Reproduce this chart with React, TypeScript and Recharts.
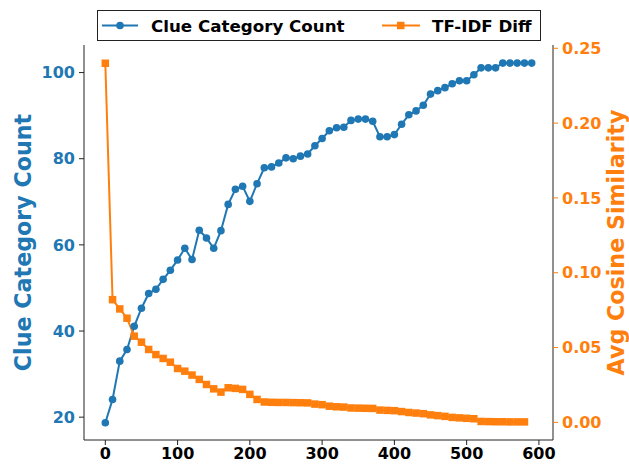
import { LineChart, Line, XAxis, YAxis } from "recharts";

const steps = [
  0, 10, 20, 30, 40, 50, 60, 70, 80, 90, 100, 110, 120, 130, 140, 150, 160, 170, 180, 190,
  200, 210, 220, 230, 240, 250, 260, 270, 280, 290, 300, 310, 320, 330, 340, 350, 360, 370, 380, 390,
  400, 410, 420, 430, 440, 450, 460, 470, 480, 490, 500, 510, 520, 530, 540, 550, 560, 570, 580, 590,
];

const clueCategoryCount = [
  18.7, 24.1, 33.0, 35.7, 41.1, 45.3, 48.7, 49.7, 52.0, 54.1, 56.5, 59.2, 56.6, 63.4, 61.6, 59.2, 63.3, 69.4, 72.9, 73.6,
  70.1, 74.2, 77.9, 78.1, 79.0, 80.2, 80.0, 80.6, 81.1, 83.0, 84.7, 86.5, 87.2, 87.3, 88.9, 89.2, 89.2, 88.7, 85.1, 85.1,
  85.6, 88.0, 90.2, 91.1, 92.4, 95.0, 95.8, 96.5, 97.4, 98.1, 98.1, 99.5, 101.1, 101.1, 101.1, 102.2, 102.2, 102.2, 102.2, 102.2,
];

const tfidfDiff = [
  0.24, 0.082, 0.0758, 0.0696, 0.0576, 0.0536, 0.0487, 0.0453, 0.0427, 0.0402, 0.036, 0.0342, 0.0316, 0.0287, 0.0253, 0.0224, 0.0202, 0.0231, 0.0227, 0.022,
  0.0187, 0.0153, 0.0136, 0.0134, 0.0133, 0.0133, 0.0132, 0.0131, 0.013, 0.0122, 0.0118, 0.0108, 0.0104, 0.0102, 0.0096, 0.0095, 0.0094, 0.0093, 0.0082, 0.008,
  0.0078, 0.0072, 0.0066, 0.0062, 0.0058, 0.005, 0.0045, 0.004, 0.0033, 0.003, 0.0027, 0.0024, 0.0006, 0.0005, 0.0004, 0.0004, 0.0003, 0.0003, 0.0003, null,
];

const xTicks = [0, 100, 200, 300, 400, 500, 600];
const leftTicks = [20, 40, 60, 80, 100];
const rightTicks = [0, 0.05, 0.1, 0.15, 0.2, 0.25];

const data = steps.map((x, i) => ({ x, count: clueCategoryCount[i], diff: tfidfDiff[i] }));

const BLUE = "#1f77b4";
const ORANGE = "#ff7f0e";
const SPINE = "#222";
const FONT = "'DejaVu Sans', sans-serif";

const LeftTitle = (props: any) => {
  const vb = props.viewBox || {};
  const cx = 23;
  const cy = (vb.y ?? 45) + (vb.height ?? 395) / 2;
  return (
    <text x={cx} y={cy} transform={`rotate(-90 ${cx} ${cy})`} textAnchor="middle" dominantBaseline="central"
      fill={BLUE} fontSize={22.2} fontWeight="bold" fontFamily={FONT}>
      Clue Category Count
    </text>
  );
};

const RightTitle = (props: any) => {
  const vb = props.viewBox || {};
  const cx = 616;
  const cy = (vb.y ?? 45) + (vb.height ?? 395) / 2;
  return (
    <text x={cx} y={cy} transform={`rotate(-90 ${cx} ${cy})`} textAnchor="middle" dominantBaseline="central"
      fill={ORANGE} fontSize={22.2} fontWeight="bold" fontFamily={FONT}>
      Avg Cosine Similarity
    </text>
  );
};

const SquareDot = (props: any) => {
  const { cx, cy, index } = props;
  if (cx == null || cy == null || props.value == null) return <g key={`sq-${index}`} />;
  return <rect key={`sq-${index}`} x={cx - 3.75} y={cy - 3.75} width={7.5} height={7.5} fill={ORANGE} />;
};

function LegendBox() {
  return (
    <div style={{ position: "absolute", left: 97, top: 10, width: 444, height: 31, border: `1px solid ${SPINE}`, boxSizing: "border-box", background: "#fff" }}>
      <svg width={444} height={31} style={{ display: "block" }}>
        <line x1={4} x2={40} y1={14.5} y2={14.5} stroke={BLUE} strokeWidth={2} />
        <circle cx={22} cy={14.5} r={3.8} fill={BLUE} />
        <text x={53} y={14.5} dominantBaseline="central" fontSize={16.7} fontWeight="bold" fontFamily={FONT} fill="#000">
          Clue Category Count
        </text>
        <line x1={284} x2={322} y1={14.5} y2={14.5} stroke={ORANGE} strokeWidth={2} />
        <rect x={299} y={10.75} width={7.5} height={7.5} fill={ORANGE} />
        <text x={334} y={14.5} dominantBaseline="central" fontSize={16.7} fontWeight="bold" fontFamily={FONT} fill="#000">
          TF-IDF Diff
        </text>
      </svg>
    </div>
  );
}

export default function App() {
  return (
    <div style={{ position: "absolute", left: 0, top: 0, width: 629, height: 466, background: "#fff" }}>
      <LineChart width={629} height={466} data={data} margin={{ top: 45, right: 0, left: 0, bottom: 0 }}>
        <XAxis
          dataKey="x"
          type="number"
          domain={[-29.5, 619.5]}
          ticks={xTicks}
          height={26}
          axisLine={{ stroke: SPINE, strokeWidth: 1 }}
          tickLine={{ stroke: SPINE }}
          tickSize={5}
          tickMargin={3}
          tick={{ fill: "#000", fontSize: 16, fontWeight: "bold", fontFamily: FONT }}
        />
        <XAxis
          xAxisId="top"
          orientation="top"
          dataKey="x"
          type="number"
          domain={[-29.5, 619.5]}
          height={0}
          tick={false}
          tickLine={false}
          axisLine={{ stroke: SPINE, strokeWidth: 1 }}
        />
        <YAxis
          yAxisId="left"
          type="number"
          domain={[14.7, 106.4]}
          ticks={leftTicks}
          width={84}
          axisLine={{ stroke: SPINE, strokeWidth: 1 }}
          tickLine={{ stroke: SPINE }}
          tickSize={5}
          tickMargin={4}
          tick={{ fill: BLUE, fontSize: 16, fontWeight: "bold", fontFamily: FONT }}
          label={<LeftTitle />}
        />
        <YAxis
          yAxisId="right"
          orientation="right"
          type="number"
          domain={[-0.0118, 0.2522]}
          ticks={rightTicks}
          width={76}
          axisLine={{ stroke: SPINE, strokeWidth: 1 }}
          tickLine={{ stroke: ORANGE }}
          tickSize={5}
          tickMargin={4}
          tickFormatter={(v: number) => v.toFixed(2)}
          tick={{ fill: ORANGE, fontSize: 16, fontWeight: "bold", fontFamily: FONT }}
          label={<RightTitle />}
        />
        <Line
          yAxisId="left"
          dataKey="count"
          stroke={BLUE}
          strokeWidth={2}
          dot={{ r: 3.8, fill: BLUE, stroke: BLUE, strokeWidth: 0 }}
          activeDot={false}
          isAnimationActive={false}
        />
        <Line
          yAxisId="right"
          dataKey="diff"
          stroke={ORANGE}
          strokeWidth={2}
          dot={<SquareDot />}
          activeDot={false}
          isAnimationActive={false}
        />
      </LineChart>
      <LegendBox />
    </div>
  );
}
